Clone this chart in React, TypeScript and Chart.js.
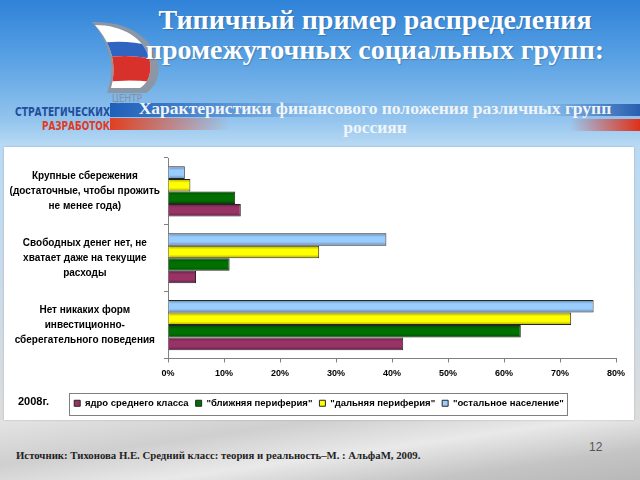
import React, { useEffect, useRef } from "react";
import { Chart, registerables } from "chart.js";

Chart.register(...registerables);

const categories: string[][] = [
  ["Крупные сбережения", "(достаточные, чтобы прожить", "не менее года)"],
  ["Свободных денег нет, не", "хватает даже на текущие", "расходы"],
  ["Нет никаких форм", "инвестиционно-", "сберегательного поведения"],
];
// Series listed top-to-bottom as drawn inside each group
const seriesNames = [
  "\"остальное население\"",
  "\"дальняя периферия\"",
  "\"ближняя периферия\"",
  "ядро среднего класса",
];
const restValues = [3, 39, 76];
const farValues = [4, 27, 72];
const nearValues = [12, 11, 63];
const coreValues = [13, 5, 42];
const seriesColors = ["#99ccff", "#ffff00", "#007000", "#993366"];
const xTicksMax = 80;

const LEGEND_SHIFT = 9;

// nudge the legend a little to the right, like the original slide
const legendShiftPlugin = {
  id: "legendShift",
  afterUpdate(chart: any) {
    const lg = chart.legend;
    if (!lg) return;
    lg.left += LEGEND_SHIFT;
    lg.right += LEGEND_SHIFT;
    (lg.legendHitBoxes || []).forEach((h: any) => {
      h.left += LEGEND_SHIFT;
    });
  },
};

const legendBoxPlugin = {
  id: "legendBox",
  afterDraw(chart: any) {
    const lg = chart.legend;
    if (!lg || !lg.legendHitBoxes || !lg.legendHitBoxes.length) return;
    const hb = lg.legendHitBoxes;
    let l = Infinity, r = -Infinity, t = Infinity, b = -Infinity;
    hb.forEach((h: any) => {
      l = Math.min(l, h.left);
      r = Math.max(r, h.left + h.width);
      t = Math.min(t, h.top);
      b = Math.max(b, h.top + h.height);
    });
    const ctx = chart.ctx;
    ctx.save();
    ctx.strokeStyle = "#7f7f7f";
    ctx.lineWidth = 1;
    ctx.strokeRect(Math.round(l - 5) + 0.5, Math.round(t - 6) + 0.5, Math.round(r - l + 8), Math.round(b - t + 12));
    ctx.restore();
  },
};

// cylindrical shading over every bar, drawn on the library's own bar elements
const barShadePlugin = {
  id: "barShade",
  afterDatasetsDraw(chart: any) {
    const ctx = chart.ctx;
    ctx.save();
    chart.data.datasets.forEach((_d: any, di: number) => {
      const meta = chart.getDatasetMeta(di);
      meta.data.forEach((el: any) => {
        const p = el.getProps(["x", "y", "base", "height"], true);
        const top = p.y - p.height / 2;
        const g = ctx.createLinearGradient(0, top, 0, top + p.height);
        g.addColorStop(0, "rgba(0,0,0,0.35)");
        g.addColorStop(0.3, "rgba(0,0,0,0)");
        g.addColorStop(0.7, "rgba(0,0,0,0)");
        g.addColorStop(1, "rgba(0,0,0,0.35)");
        ctx.fillStyle = g;
        ctx.fillRect(p.base + 1, top + 1, p.x - p.base - 2, p.height - 2);
      });
    });
    ctx.restore();
  },
};

const SANS = "'Liberation Sans', Arial, sans-serif";

function ChartPanel() {
  const ref = useRef<HTMLCanvasElement | null>(null);
  useEffect(() => {
    if (!ref.current) return;
    const values = [restValues, farValues, nearValues, coreValues];
    const chart = new Chart(ref.current, {
      type: "bar",
      data: {
        labels: categories,
        datasets: seriesNames.map((n, i) => ({
          label: n,
          data: values[i],
          backgroundColor: seriesColors[i],
          borderColor: "#262626",
          borderWidth: 1,
          categoryPercentage: 0.75,
          barPercentage: 1.0,
        })),
      },
      options: {
        indexAxis: "y",
        animation: false,
        responsive: false,
        maintainAspectRatio: false,
        layout: { padding: { top: 11, right: 18, left: 0, bottom: 2 } },
        plugins: {
          tooltip: { enabled: false },
          legend: {
            position: "bottom",
            reverse: true,
            labels: {
              boxWidth: 6,
              boxHeight: 6,
              padding: 7,
              color: "#000",
              font: { family: SANS, size: 9.5, weight: "bold" },
            },
          },
        },
        scales: {
          y: {
            afterFit: (s: any) => {
              s.width = 164;
              s.paddingTop = 0;
              s.paddingBottom = 0;
            },
            grid: { offset: true, drawOnChartArea: false, tickLength: 4, color: "#808080" },
            border: { color: "#808080" },
            ticks: {
              crossAlign: "center",
              color: "#000",
              padding: 4,
              font: { family: SANS, size: 10, weight: "bold", lineHeight: 1.5 },
            },
          },
          x: {
            min: 0,
            max: xTicksMax,
            afterFit: (s: any) => {
              s.height = 33;
              s.paddingRight = 0;
              s.paddingLeft = 0;
            },
            grid: { drawOnChartArea: false, tickLength: 4, color: "#808080" },
            border: { color: "#808080" },
            ticks: {
              stepSize: 10,
              color: "#000",
              padding: 6,
              callback: (v: any) => v + "%",
              font: { family: SANS, size: 9, weight: "bold" },
            },
          },
        },
      },
      plugins: [legendShiftPlugin, barShadePlugin, legendBoxPlugin],
    } as any);
    return () => chart.destroy();
  }, []);
  return <canvas ref={ref} width={630} height={273} style={{ position: "absolute", left: 4, top: 147, width: 630, height: 273 }} />;
}

const COND = "'DejaVu Sans Condensed', 'Liberation Sans Narrow', 'Liberation Sans', sans-serif";

export default function App() {
  return (
    <div
      style={{
        position: "absolute",
        left: 0,
        top: 0,
        width: 640,
        height: 480,
        overflow: "hidden",
        background:
          "linear-gradient(180deg, #2f82d8 0px, #5aa2e4 60px, #93c4ee 120px, #b9daf4 146px, #dcdcdc 420px, #c9c9c9 450px, #b5b5b5 480px)",
        fontFamily: "'Liberation Serif', 'Times New Roman', serif",
      }}
    >
      {/* grey waves at bottom */}
      <div
        style={{
          position: "absolute",
          left: 0,
          top: 420,
          width: 640,
          height: 60,
          background:
            "linear-gradient(172deg, #e4e4e4 0%, #cfcfcf 30%, #e9e9e9 55%, #c4c4c4 80%, #b8b8b8 100%)",
        }}
      />
      {/* logo */}
      <svg width={640} height={146} style={{ position: "absolute", left: 0, top: 0 }}>
        <defs>
          <linearGradient id="blueStripe" x1="0" x2="1" y1="0" y2="0">
            <stop offset="0" stopColor="#1f5fb8" stopOpacity="1" />
            <stop offset="1" stopColor="#1f5fb8" stopOpacity="0" />
          </linearGradient>
          <linearGradient id="redStripe" x1="0" x2="1" y1="0" y2="0">
            <stop offset="0" stopColor="#e04020" stopOpacity="1" />
            <stop offset="1" stopColor="#e04020" stopOpacity="0" />
          </linearGradient>
          <linearGradient id="blueStripeR" x1="1" x2="0" y1="0" y2="0">
            <stop offset="0" stopColor="#2a5fb0" stopOpacity="1" />
            <stop offset="1" stopColor="#2a5fb0" stopOpacity="0" />
          </linearGradient>
          <linearGradient id="redStripeR" x1="1" x2="0" y1="0" y2="0">
            <stop offset="0" stopColor="#e03018" stopOpacity="1" />
            <stop offset="1" stopColor="#e03018" stopOpacity="0" />
          </linearGradient>
          <clipPath id="sailClip">
            <path d="M95 25 C 122 25, 146 38, 150 62 C 152 76, 146 85, 140 88 L 111 88 C 116 70, 115 47, 95 25 Z" />
          </clipPath>
        </defs>
        {/* outer grey sail */}
        <path d="M92 22 C 124 21, 152 35, 158 62 C 161 78, 153 89, 146 93 L 107 93 C 114 74, 114 48, 92 22 Z" fill="#8c97a6" />
        <g clipPath="url(#sailClip)">
          <rect x={85} y={15} width={80} height={90} fill="#ffffff" />
          <path d="M85 46 Q 125 36 165 50 L 165 62 Q 125 50 85 62 Z" fill="#2f64c0" />
          <path d="M85 62 Q 125 50 165 62 L 165 84 Q 125 76 85 86 Z" fill="#d8302a" />
        </g>
        <rect x={110} y={103} width={210} height={14} fill="url(#blueStripe)" />
        <rect x={110} y={118} width={120} height={12} fill="url(#redStripe)" />
        <rect x={545} y={104} width={95} height={12} fill="url(#blueStripeR)" />
        <rect x={570} y={119} width={70} height={12} fill="url(#redStripeR)" />
        <text x={112} y={102} fontFamily={COND} fontSize={10} fill="#8a9099" textLength={30} lengthAdjust="spacingAndGlyphs">ЦЕНТР</text>
        <text x={15} y={116} fontFamily={COND} fontSize={13} fill="#1f4f9c" fontWeight="bold" textLength={95} lengthAdjust="spacingAndGlyphs">СТРАТЕГИЧЕСКИХ</text>
        <text x={42} y={130} fontFamily={COND} fontSize={13} fill="#e03a22" fontWeight="bold" textLength={68} lengthAdjust="spacingAndGlyphs">РАЗРАБОТОК</text>
      </svg>
      {/* title */}
      <div
        style={{
          position: "absolute",
          left: 110,
          width: 530,
          top: 5,
          textAlign: "center",
          color: "#ffffff",
          fontWeight: "bold",
          fontSize: 28,
          lineHeight: "30px",
          textShadow: "1px 1px 1px rgba(0,0,0,0.2)",
        }}
      >
        Типичный пример распределения
        <br />
        промежуточных социальных групп:
      </div>
      <div
        style={{
          position: "absolute",
          left: 110,
          width: 530,
          top: 99,
          textAlign: "center",
          color: "#f0f4f8",
          fontWeight: "bold",
          fontSize: 17.5,
          lineHeight: "19px",
        }}
      >
        Характеристики финансового положения различных групп
        <br />
        россиян
      </div>
      {/* white chart panel */}
      <div
        style={{
          position: "absolute",
          left: 4,
          top: 147,
          width: 630,
          height: 273,
          background: "#ffffff",
          boxShadow: "0 0 2px rgba(0,0,0,0.2)",
        }}
      />
      <ChartPanel />
      <div
        style={{
          position: "absolute",
          left: 18,
          top: 395,
          fontFamily: SANS,
          fontSize: 11,
          fontWeight: "bold",
          color: "#000",
        }}
      >
        2008г.
      </div>
      <div
        style={{
          position: "absolute",
          left: 16,
          top: 449,
          fontSize: 10.75,
          fontWeight: "bold",
          color: "#222",
          whiteSpace: "nowrap",
        }}
      >
        Источник: Тихонова Н.Е. Средний класс: теория и реальность–М. : АльфаМ, 2009.
      </div>
      <div
        style={{
          position: "absolute",
          left: 589,
          top: 440,
          fontFamily: SANS,
          fontSize: 12,
          color: "#555",
        }}
      >
        12
      </div>
    </div>
  );
}
